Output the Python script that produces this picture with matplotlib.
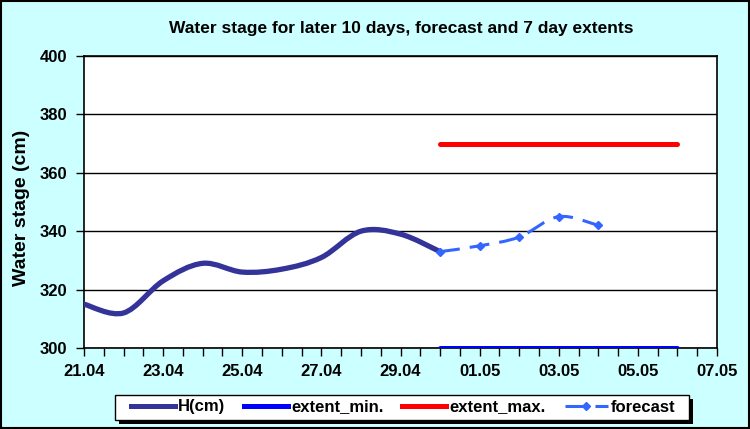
import numpy as np
import pandas as pd
import matplotlib
matplotlib.use("Agg")
import matplotlib.pyplot as plt
import matplotlib.dates as mdates
from matplotlib.path import Path
from matplotlib.patches import PathPatch, Rectangle
from matplotlib.lines import Line2D

plt.rcParams['font.family'] = ['Liberation Sans', 'DejaVu Sans']
plt.rcParams['font.weight'] = 'bold'

# observed stage, last 10 days
obs_dates = pd.date_range("2009-04-21", "2009-04-30", freq="D")
obs_h = [315, 312, 323, 329, 326, 327, 331, 340, 339, 333]

# forecast
fc_dates = pd.date_range("2009-04-30", "2009-05-04", freq="D")
fc_h = [333, 335, 338, 345, 342]

# 7 day extents
ext_dates = pd.date_range("2009-04-30", "2009-05-06", freq="D")
ext_min = [300, 300, 300, 300, 300, 300, 300]
ext_max = [370, 370, 370, 370, 370, 370, 370]

tick_dates = pd.date_range("2009-04-21", "2009-05-07", freq="2D")
y_ticks = [300, 320, 340, 360, 380, 400]

H_COLOR = "#333399"
FC_COLOR = "#3366FF"
W, H = 750, 429


def smooth_path(dates, values):
    # Excel-like smoothed line: bezier segments through the data points
    x = mdates.date2num(dates)
    y = np.asarray(values, dtype=float)
    n = len(x)
    verts = [(x[0], y[0])]
    codes = [Path.MOVETO]
    for i in range(n - 1):
        xa, ya = (x[i - 1], y[i - 1]) if i > 0 else (x[i], y[i])
        xb, yb = (x[i + 2], y[i + 2]) if i + 2 < n else (x[i + 1], y[i + 1])
        c1 = (x[i] + (x[i + 1] - xa) / 6, y[i] + (y[i + 1] - ya) / 6)
        c2 = (x[i + 1] - (xb - x[i]) / 6, y[i + 1] - (yb - y[i]) / 6)
        verts += [c1, c2, (x[i + 1], y[i + 1])]
        codes += [Path.CURVE4] * 3
    return Path(verts, codes)


fig = plt.figure(figsize=(W / 100, H / 100), dpi=100)
fig.patch.set_facecolor("#CCFFFF")
fig.patches.append(Rectangle((0.001, 0.002), 0.997, 0.996, transform=fig.transFigure,
                             fill=False, edgecolor="black", linewidth=1.5))

ax = fig.add_axes([84 / W, 1 - 348 / H, (717 - 84) / W, (348 - 56) / H])
ax.set_facecolor("white")

ax.plot(ext_dates, ext_min, color="#0000FF", linewidth=3.6, solid_capstyle="round", zorder=3)
ax.plot(ext_dates, ext_max, color="#FF0000", linewidth=3.6, solid_capstyle="round", zorder=3)

ax.add_patch(PathPatch(smooth_path(obs_dates, obs_h), fill=False, edgecolor=H_COLOR,
                       linewidth=3.8, capstyle="round", zorder=4))
ax.add_patch(PathPatch(smooth_path(fc_dates, fc_h), fill=False, edgecolor=FC_COLOR,
                       linewidth=2.2, linestyle=(0, (6.5, 3.3)), zorder=5))
ax.plot(fc_dates, fc_h, linestyle="none", marker="D", markersize=4.3,
        color=FC_COLOR, zorder=6)

ax.set_xlim(mdates.date2num(tick_dates[0]), mdates.date2num(tick_dates[-1]))
ax.set_ylim(300, 400)
ax.set_yticks(y_ticks)
ax.set_xticks(mdates.date2num(tick_dates))
ax.xaxis.set_minor_locator(mdates.HourLocator(byhour=[0, 12]))
ax.xaxis.set_major_formatter(mdates.DateFormatter("%d.%m"))
ax.grid(axis="y", color="black", linewidth=1)
ax.set_axisbelow(True)
for s in ax.spines.values():
    s.set_linewidth(1.2)
    s.set_color("black")
ax.tick_params(axis="both", which="both", direction="out", length=5.5, width=1,
               labelsize=12, colors="black")
ax.tick_params(axis="x", pad=6)
ax.tick_params(axis="y", pad=6.5)
for lab in ax.get_xticklabels() + ax.get_yticklabels():
    lab.set_fontweight("bold")

fig.text(401 / W, 1 - 28 / H, "Water stage for later 10 days, forecast and 7 day extents",
         ha="center", va="center", fontsize=12.5, fontweight="bold")
fig.text(22 / W, 1 - 208 / H, "Water stage (cm)", rotation=90,
         ha="center", va="center", fontsize=14, fontweight="bold")

handles = [
    Line2D([], [], color=H_COLOR, linewidth=3.6),
    Line2D([], [], color="#0000FF", linewidth=3.6),
    Line2D([], [], color="#FF0000", linewidth=3.6),
    Line2D([], [], color=FC_COLOR, linewidth=2.2, linestyle=(0, (6.5, 3.3)),
           marker="D", markersize=4.3),
]
labels = ["H(cm)", "extent_min.", "extent_max.", "forecast"]
leg = fig.legend(handles, labels, loc="center", bbox_to_anchor=(403.5 / W, 1 - 407 / H),
                 ncol=4, fontsize=12, handlelength=2.6, handletextpad=0.2,
                 columnspacing=1.15, frameon=False, borderpad=0)
for t in leg.get_texts():
    t.set_fontweight("bold")

# legend box with hard shadow, drawn around the legend contents
fig.canvas.draw()
bb = leg.get_window_extent()
bx0, bx1 = bb.x0 - 16, bb.x1 + 13
by0, by1 = H - 420, H - 395
fig.patches.append(Rectangle(((bx0 + 4) / W, (by0 - 4) / H), (bx1 - bx0) / W, (by1 - by0) / H,
                             transform=fig.transFigure, facecolor="black", edgecolor="none",
                             zorder=2))
fig.patches.append(Rectangle((bx0 / W, by0 / H), (bx1 - bx0) / W, (by1 - by0) / H,
                             transform=fig.transFigure, facecolor="white", edgecolor="black",
                             linewidth=1, zorder=3))

fig.savefig("out.png", dpi=100, facecolor=fig.get_facecolor())
